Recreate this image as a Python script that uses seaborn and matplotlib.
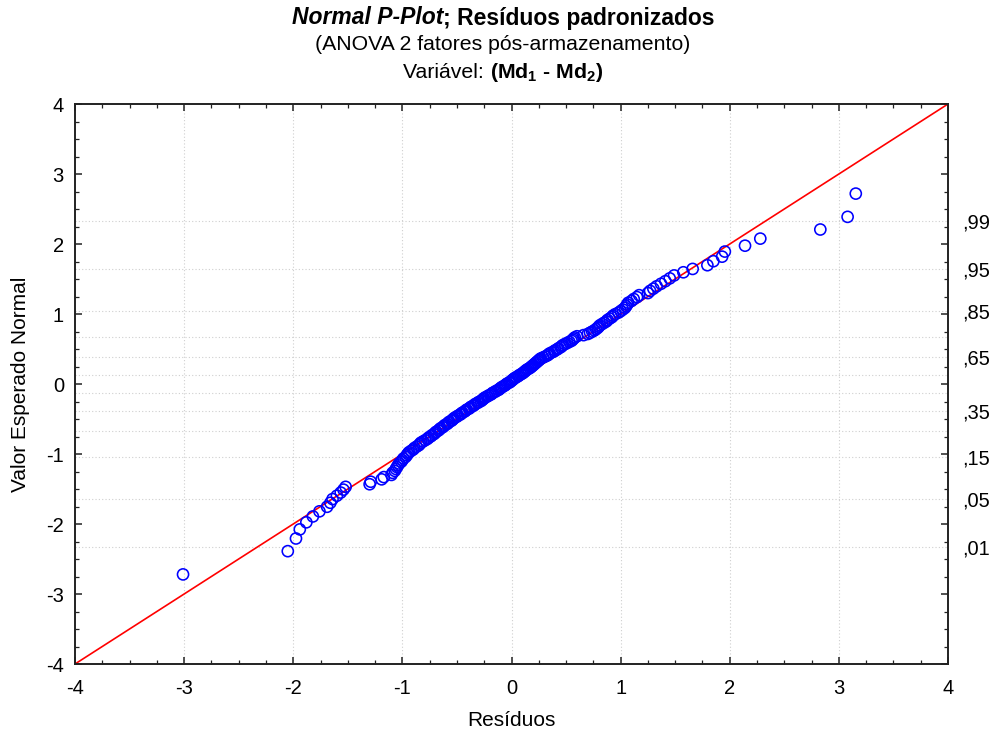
import matplotlib
matplotlib.use("Agg")
import matplotlib.pyplot as plt
from matplotlib.ticker import AutoMinorLocator
import numpy as np
import pandas as pd
import seaborn as sns
from statistics import NormalDist

# ---------------- data ----------------
residuos = [
    -3.01, -2.05, -1.975, -1.94, -1.88, -1.82, -1.76, -1.69, -1.66, -1.64,
    -1.60, -1.565, -1.54, -1.52, -1.30, -1.29, -1.19, -1.17, -1.10, -1.09,
    -1.07, -1.06, -1.05, -1.04, -1.03, -1.01, -1.00, -0.99, -0.97, -0.96,
    -0.95, -0.94, -0.92, -0.90, -0.89, -0.87, -0.85, -0.84, -0.83, -0.81,
    -0.79, -0.77, -0.76, -0.74, -0.73, -0.71, -0.70, -0.69, -0.67, -0.66,
    -0.65, -0.63, -0.62, -0.61, -0.59, -0.58, -0.57, -0.55, -0.54, -0.53,
    -0.52, -0.50, -0.49, -0.47, -0.46, -0.45, -0.43, -0.42, -0.41, -0.39,
    -0.38, -0.37, -0.35, -0.34, -0.33, -0.31, -0.30, -0.28, -0.27, -0.26,
    -0.25, -0.24, -0.22, -0.21, -0.19, -0.18, -0.17, -0.15, -0.14, -0.12,
    -0.11, -0.10, -0.09, -0.075, -0.06, -0.05,
    -0.04, -0.02, -0.01, 0.0, 0.01, 0.02, 0.03, 0.045, 0.06, 0.07,
    0.085, 0.10, 0.11, 0.12, 0.13, 0.14, 0.155, 0.17, 0.18, 0.19,
    0.20, 0.21, 0.22, 0.23, 0.24, 0.25, 0.26, 0.27, 0.29, 0.31,
    0.33, 0.34, 0.35, 0.37, 0.39, 0.40, 0.42, 0.43, 0.45, 0.46,
    0.47, 0.49, 0.51, 0.53, 0.55, 0.56, 0.57, 0.58, 0.60, 0.66,
    0.70, 0.72, 0.74, 0.76, 0.775, 0.79, 0.80, 0.81, 0.83, 0.85,
    0.87, 0.88, 0.90, 0.92, 0.93, 0.95, 0.98, 1.00, 1.02, 1.04,
    1.05, 1.06, 1.07, 1.10, 1.12, 1.15, 1.17, 1.25, 1.27, 1.30,
    1.33, 1.37, 1.41, 1.45, 1.49, 1.575, 1.66, 1.795, 1.85, 1.93,
    1.955, 2.14, 2.28, 2.83, 3.08, 3.155,
]

valor_esperado = [
    -2.72, -2.388, -2.207, -2.077, -1.976, -1.892, -1.819, -1.754, -1.697, -1.644,
    -1.596, -1.551, -1.509, -1.469, -1.432, -1.396, -1.362, -1.330, -1.299, -1.269,
    -1.241, -1.214, -1.187, -1.161, -1.136, -1.111, -1.088, -1.064, -1.041, -1.019,
    -0.997, -0.976, -0.955, -0.935, -0.915, -0.895, -0.876, -0.857, -0.838, -0.820,
    -0.802, -0.784, -0.766, -0.749, -0.732, -0.715, -0.698, -0.682, -0.665, -0.649,
    -0.633, -0.617, -0.602, -0.586, -0.571, -0.555, -0.540, -0.525, -0.510, -0.495,
    -0.481, -0.466, -0.452, -0.437, -0.423, -0.409, -0.394, -0.380, -0.366, -0.353,
    -0.339, -0.325, -0.311, -0.298, -0.284, -0.270, -0.257, -0.244, -0.230, -0.217,
    -0.204, -0.190, -0.177, -0.164, -0.151, -0.138, -0.124, -0.111, -0.098, -0.085,
    -0.072, -0.059, -0.046, -0.033, -0.020, -0.007,
    0.007, 0.020, 0.033, 0.046, 0.059, 0.072, 0.085, 0.098, 0.111, 0.124,
    0.138, 0.151, 0.164, 0.177, 0.190, 0.204, 0.217, 0.230, 0.244, 0.257,
    0.270, 0.284, 0.298, 0.311, 0.325, 0.339, 0.353, 0.366, 0.380, 0.394,
    0.409, 0.423, 0.437, 0.452, 0.466, 0.481, 0.495, 0.510, 0.525, 0.540,
    0.555, 0.571, 0.586, 0.602, 0.617, 0.633, 0.649, 0.665, 0.682, 0.698,
    0.715, 0.732, 0.749, 0.766, 0.784, 0.802, 0.820, 0.838, 0.857, 0.876,
    0.895, 0.915, 0.935, 0.955, 0.976, 0.997, 1.019, 1.041, 1.064, 1.088,
    1.111, 1.136, 1.161, 1.187, 1.214, 1.241, 1.269, 1.299, 1.330, 1.362,
    1.396, 1.432, 1.469, 1.509, 1.551, 1.596, 1.644, 1.697, 1.754, 1.819,
    1.892, 1.976, 2.077, 2.207, 2.388, 2.72,
]

axis_ticks = [-4, -3, -2, -1, 0, 1, 2, 3, 4]
prob_labelled = [0.99, 0.95, 0.85, 0.65, 0.35, 0.15, 0.05, 0.01]
prob_labels = [",99", ",95", ",85", ",65", ",35", ",15", ",05", ",01"]
prob_grid_only = [0.75, 0.55, 0.45, 0.25]

# ---------------- style ----------------
sns.set_style("ticks")
plt.rcParams["font.family"] = ["Liberation Sans", "DejaVu Sans"]
plt.rcParams["axes.unicode_minus"] = False
plt.rcParams["mathtext.fontset"] = "custom"
plt.rcParams["mathtext.rm"] = "Liberation Sans"
plt.rcParams["mathtext.bf"] = "Liberation Sans:bold"
plt.rcParams["mathtext.it"] = "Liberation Sans:italic"
for key in ["text.color", "axes.labelcolor", "xtick.labelcolor", "ytick.labelcolor"]:
    plt.rcParams[key] = "black"

df = pd.DataFrame({"Resíduos": residuos, "Valor Esperado Normal": valor_esperado})

fig = plt.figure(figsize=(9.96, 7.35), dpi=100)
rect = [75 / 996, 1 - 664 / 735, 873 / 996, 560 / 735]

# background axes: probability grid + right-hand probability labels
nd = NormalDist()
axg = fig.add_axes(rect)
axg.set_xlim(-4, 4)
axg.set_ylim(-4, 4)
axg.set_xticks(axis_ticks[1:-1])
axg.tick_params(axis="x", length=0, labelbottom=False)
axg.yaxis.tick_right()
axg.set_yticks([nd.inv_cdf(p) for p in prob_labelled], labels=prob_labels)
axg.set_yticks([nd.inv_cdf(p) for p in prob_grid_only], minor=True)
axg.tick_params(axis="y", which="both", length=0, pad=10, labelsize=14.5,
                labelcolor="black")
axg.grid(True, which="both", color="#cfcfcf", linestyle=(0, (1, 2)), linewidth=0.8)
for s in axg.spines.values():
    s.set_visible(False)

# main axes
ax = fig.add_axes(rect)
ax.patch.set_visible(False)
ax.axline((0, 0), slope=1, color="#ff0000", linewidth=1.2, zorder=2)
sns.scatterplot(data=df, x="Resíduos", y="Valor Esperado Normal", ax=ax,
                marker="o", s=64, facecolor="none", edgecolor="#0000ff",
                linewidth=1.15, zorder=3, legend=False)
for coll in ax.collections:
    coll.set_facecolor("none")
    coll.set_edgecolor("#0000ff")
    coll.set_linewidth(1.15)

ax.set_xlim(-4, 4)
ax.set_ylim(-4, 4)
ax.set_xticks(axis_ticks)
ax.set_yticks(axis_ticks)
ax.xaxis.set_minor_locator(AutoMinorLocator(4))
ax.yaxis.set_minor_locator(AutoMinorLocator(4))
ax.tick_params(which="both", direction="in", top=True, right=True,
               labelright=False, labeltop=False, color="#222222")
ax.tick_params(which="major", length=5, width=1.1, labelsize=14.5, labelcolor="black")
ax.tick_params(which="minor", length=3, width=0.9)
ax.tick_params(axis="x", which="major", pad=11)
ax.tick_params(axis="y", which="major", pad=8)
for s in ax.spines.values():
    s.set_linewidth(1.4)
    s.set_color("#222222")

ax.set_xlabel("Resíduos", fontsize=15)
ax.set_ylabel("Valor Esperado Normal", fontsize=15)
ax.xaxis.set_label_coords(0.5, (664 - 720) / 560)
ax.xaxis.label.set_va("center")
ax.yaxis.set_label_coords((21 - 75) / 873, 0.5)
ax.yaxis.label.set_va("center")

# ---------------- titles ----------------
cx = 503 / 996
W = fig.bbox.width


def centered_pieces(y_frac, pieces):
    """Place several text pieces side by side, centred as a whole at cx."""
    texts = [fig.text(0, y_frac, s, va="center", ha="left", **kw) for s, kw in pieces]
    fig.canvas.draw()
    r = fig.canvas.get_renderer()
    widths = [t.get_window_extent(r).width for t in texts]
    x = cx * W - sum(widths) / 2
    for t, w in zip(texts, widths):
        t.set_x(x / W)
        x += w


centered_pieces(1 - 18 / 735, [
    ("Normal P-Plot", dict(fontsize=16.5, fontweight="bold", fontstyle="italic")),
    ("; Resíduos padronizados", dict(fontsize=16.5, fontweight="bold")),
])
fig.text(cx, 1 - 45 / 735, "(ANOVA 2 fatores pós-armazenamento)", fontsize=15.3,
         ha="center", va="center")
centered_pieces(1 - 73 / 735, [
    ("Variável: ", dict(fontsize=15.3)),
    (r"$\mathbf{(Md_1}$ - $\mathbf{Md_2)}$", dict(fontsize=15.3, fontweight="bold")),
])

fig.savefig("out.png", dpi=100)
